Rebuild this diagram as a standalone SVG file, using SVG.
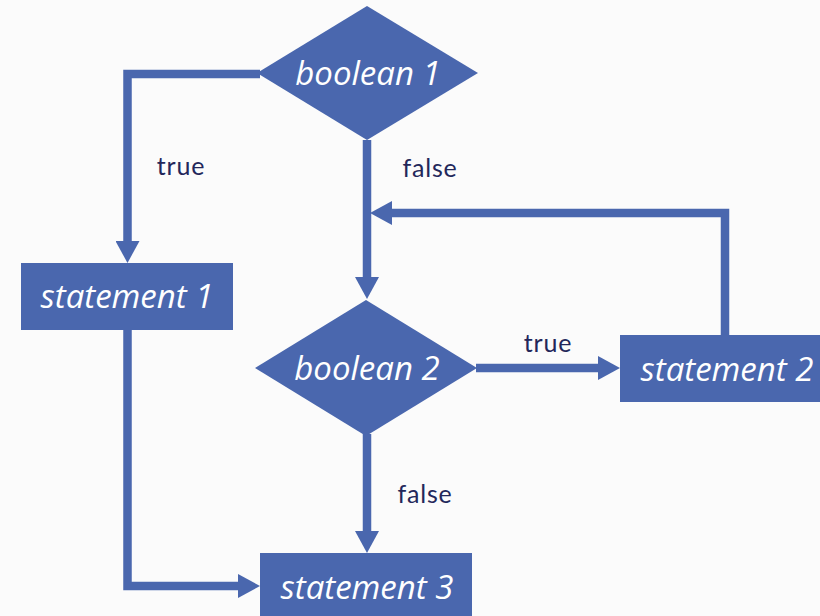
<svg xmlns="http://www.w3.org/2000/svg" width="820" height="616" viewBox="0 0 820 616">
<defs>
<marker id="ah" markerUnits="userSpaceOnUse" markerWidth="24" markerHeight="24" viewBox="0 0 22 24" refX="0" refY="12" orient="auto"><path d="M0,0 L22,12 L0,24 Z" fill="#4a67ae"/></marker>
<style>
.shape{fill:#4a67ae}
.nt{font-family:"Open Sans","Noto Sans",sans-serif;font-style:italic;font-size:33px;fill:#ffffff;text-anchor:middle}
.lb{font-family:"Lato","Liberation Sans",sans-serif;font-size:25px;letter-spacing:0.8px;fill:#23275a;text-anchor:middle}
.cn{fill:none;stroke:#4a67ae;stroke-width:8.5}
</style>
</defs>
<rect width="820" height="616" fill="#fbfbfb"/>
<g id="connectors">
<polyline class="cn" points="260,74 127.5,74 127.5,241" marker-end="url(#ah)"/>
<line class="cn" x1="367" y1="140" x2="367" y2="277" marker-end="url(#ah)"/>
<polyline class="cn" points="725,336 725,213 392,213" marker-end="url(#ah)"/>
<line class="cn" x1="476" y1="368" x2="598" y2="368" marker-end="url(#ah)"/>
<line class="cn" x1="367" y1="434" x2="367" y2="531" marker-end="url(#ah)"/>
<polyline class="cn" points="127.5,329 127.5,586 238,586" marker-end="url(#ah)"/>
<text class="lb" x="181" y="175">true</text>
<text class="lb" x="430" y="177">false</text>
<text class="lb" x="548" y="352">true</text>
<text class="lb" x="425" y="503">false</text>
</g>
<g id="boolean1"><polygon class="shape" points="367,6 478,73 367,140 257,73"/><text class="nt" x="368" y="85">boolean 1</text></g>
<g id="statement1"><rect class="shape" x="21" y="263" width="212" height="67"/><text class="nt" x="127" y="308">statement 1</text></g>
<g id="boolean2"><polygon class="shape" points="366,300 477,368 366,436 255,368"/><text class="nt" x="367" y="380">boolean 2</text></g>
<g id="statement2"><rect class="shape" x="620" y="335" width="202" height="67"/><text class="nt" x="727" y="381">statement 2</text></g>
<g id="statement3"><rect class="shape" x="260" y="553" width="212" height="66"/><text class="nt" x="367" y="599">statement 3</text></g>
</svg>
